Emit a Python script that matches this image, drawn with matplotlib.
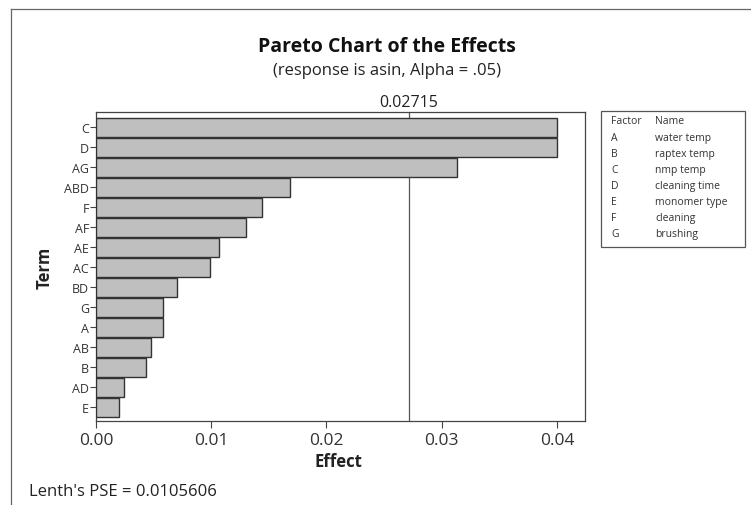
import matplotlib
matplotlib.use("Agg")
import matplotlib.pyplot as plt
from matplotlib.lines import Line2D
from matplotlib.patches import Rectangle

terms = ["C", "D", "AG", "ABD", "F", "AF", "AE", "AC", "BD", "G", "A", "AB", "B", "AD", "E"]
effects = [0.0400, 0.0400, 0.0313, 0.0168, 0.0144, 0.0130, 0.0107, 0.0099,
           0.0070, 0.0058, 0.0058, 0.0048, 0.0043, 0.0024, 0.0020]
critical = 0.02715
pse = 0.0105606
factors = ["A", "B", "C", "D", "E", "F", "G"]
names = ["water temp", "raptex temp", "nmp temp", "cleaning time",
         "monomer type", "cleaning", "brushing"]
xticks = [0.00, 0.01, 0.02, 0.03, 0.04]

plt.rcParams["font.family"] = ["Open Sans", "DejaVu Sans"]
W, H = 751, 506
fig = plt.figure(figsize=(W / 100, H / 100), dpi=100)
ax = fig.add_axes([96 / W, 1 - 421.7 / H, (584.5 - 96) / W, (421.7 - 113.3) / H])

ypos = list(range(len(terms)))
ax.barh(ypos, effects, height=0.95, color="#bfbfbf", edgecolor="#333333", linewidth=1.0,
        zorder=3)
ax.axvline(critical, color="#555555", lw=0.9, zorder=1)
ax.text(critical, -0.85, f"{critical:.5f}", ha="center", va="bottom", fontsize=11.5,
        color="#222222")

ax.set_ylim(len(terms) - 1 + 0.67, -0.75)
ax.set_xlim(0, 0.04239)
ax.set_yticks(ypos)
ax.set_yticklabels(terms, fontsize=9, color="#333333")
ax.set_xticks(xticks)
ax.set_xticklabels([f"{v:.2f}" for v in xticks], fontsize=12.5, color="#333333")
ax.tick_params(axis="y", length=4, width=0.8, pad=1, color="#444444")
ax.tick_params(axis="x", length=5, width=0.8, pad=3, color="#444444")
for s in ax.spines.values():
    s.set_color("#444444")
    s.set_linewidth(0.9)

fig.text(338 / W, 1 - 462 / H, "Effect", ha="center", va="center", fontsize=12,
         fontweight="bold", color="#222222")
fig.text(45 / W, 1 - 268 / H, "Term", ha="center", va="center", fontsize=12,
         fontweight="bold", rotation=90, color="#222222")
fig.text(387 / W, 1 - 47 / H, "Pareto Chart of the Effects", ha="center", va="center",
         fontsize=14, fontweight="bold", color="#111111")
fig.text(387 / W, 1 - 71 / H, "(response is asin, Alpha = .05)", ha="center",
         va="center", fontsize=12, color="#222222")
fig.text(29 / W, 1 - 492 / H, f"Lenth's PSE = {pse}", ha="left", va="center",
         fontsize=12, color="#222222")

# factor/name box
fig.patches.append(Rectangle((601 / W, 1 - 248 / H), 144 / W, 136 / H,
                             transform=fig.transFigure, fill=False,
                             edgecolor="#555555", lw=0.9))
row_y = [122 + 16.1 * i for i in range(len(factors) + 1)]
fig.text(611 / W, 1 - row_y[0] / H, "Factor", fontsize=7.5, va="center", color="#333333")
fig.text(655 / W, 1 - row_y[0] / H, "Name", fontsize=7.5, va="center", color="#333333")
for f, n, y in zip(factors, names, row_y[1:]):
    fig.text(611 / W, 1 - y / H, f, fontsize=7.5, va="center", color="#333333")
    fig.text(655 / W, 1 - y / H, n, fontsize=7.5, va="center", color="#333333")

# outer frame (top and left edges)
fig.add_artist(Line2D([10.5 / W, 1], [1 - 10 / H, 1 - 10 / H], transform=fig.transFigure,
                      color="#666666", lw=0.9))
fig.add_artist(Line2D([10.5 / W, 10.5 / W], [0, 1 - 10 / H], transform=fig.transFigure,
                      color="#666666", lw=0.9))

fig.savefig("out.png", dpi=100)
